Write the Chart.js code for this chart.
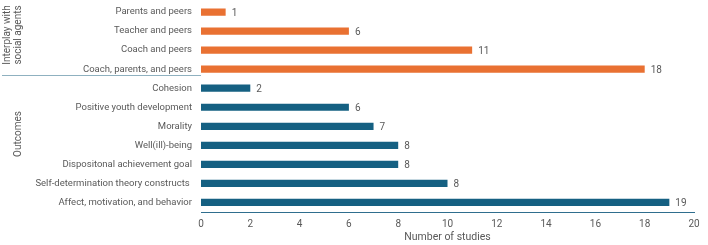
<!DOCTYPE html>
<html>
<head>
<meta charset="utf-8">
<script src="https://cdn.jsdelivr.net/npm/chart.js@4"></script>
<style>
  html, body { margin: 0; padding: 0; background: #fff; }
  #wrap { width: 708px; height: 245px; position: relative; }
</style>
</head>
<body>
<div id="wrap"><canvas id="chart"></canvas></div>
<script>
// groups, top to bottom
const socialCategories = ['Parents and peers', 'Teacher and peers', 'Coach and peers', 'Coach, parents, and peers'];
const socialValues = [1, 6, 11, 18];
const outcomeCategories = ['Cohesion', 'Positive youth development', 'Morality', 'Well(ill)-being',
  'Dispositonal achievement goal', 'Self-determination theory constructs ', 'Affect, motivation, and behavior'];
const outcomeValues = [2, 6, 7, 8, 8, 10, 19];
// printed next to the bars (as shown in the figure)
const socialLabels = ['1', '6', '11', '18'];
const outcomeLabels = ['2', '6', '7', '8', '8', '8', '19'];
const xTicks = [0, 2, 4, 6, 8, 10, 12, 14, 16, 18, 20];

const ORANGE = '#E97132';
const BLUE = '#156082';
const TEXT = '#595959';
const FONT = 'Roboto, "Noto Sans", sans-serif';

const labels = socialCategories.concat(outcomeCategories);
const values = socialValues.concat(outcomeValues);
const valueLabels = socialLabels.concat(outcomeLabels);
const colors = socialValues.map(() => ORANGE).concat(outcomeValues.map(() => BLUE));

const extras = {
  id: 'extras',
  afterDatasetsDraw(chart) {
    const ctx = chart.ctx;
    const meta = chart.getDatasetMeta(0);
    ctx.save();
    ctx.fillStyle = TEXT;
    ctx.font = '10px ' + FONT;
    ctx.textBaseline = 'middle';
    ctx.textAlign = 'left';
    meta.data.forEach((bar, i) => {
      ctx.fillText(valueLabels[i], bar.x + 6, bar.y + 1);
    });
    ctx.restore();
  },
  afterDraw(chart) {
    const ctx = chart.ctx;
    const y = chart.scales.y;
    const area = chart.chartArea;
    const n = socialCategories.length;
    const y0 = y.getPixelForValue(n - 1), y1 = y.getPixelForValue(n);
    const sepY = Math.round(y0 + (y1 - y0) * 0.3) + 0.5;
    ctx.save();
    ctx.strokeStyle = '#8FB1C0';
    ctx.lineWidth = 1;
    ctx.beginPath();
    ctx.moveTo(2, sepY);
    ctx.lineTo(area.left, sepY);
    ctx.stroke();

    ctx.fillStyle = TEXT;
    ctx.font = '10px ' + FONT;
    ctx.textAlign = 'center';
    ctx.textBaseline = 'middle';
    // Interplay group label
    ctx.save();
    ctx.translate(7, 35);
    ctx.rotate(-Math.PI / 2);
    ctx.fillText('Interplay with', 0, 0);
    ctx.fillText('social agents', 0, 11.5);
    ctx.restore();
    // Outcomes group label
    ctx.save();
    ctx.translate(18.5, 134);
    ctx.rotate(-Math.PI / 2);
    ctx.fillText('Outcomes', 0, 0);
    ctx.restore();
    ctx.restore();
  }
};

new Chart(document.getElementById('chart'), {
  type: 'bar',
  data: {
    labels: labels,
    datasets: [{
      data: values,
      backgroundColor: colors,
      barPercentage: 0.38,
      categoryPercentage: 1
    }]
  },
  options: {
    indexAxis: 'y',
    responsive: true,
    maintainAspectRatio: false,
    animation: false,
    layout: { padding: { top: 2.5, right: 14, left: 0, bottom: 0 } },
    plugins: { legend: { display: false }, tooltip: { enabled: false } },
    scales: {
      x: {
        min: 0,
        max: 20,
        afterBuildTicks: (scale) => { scale.ticks = xTicks.map(v => ({ value: v })); },
        afterFit: (scale) => { scale.height = 33; },
        grid: { display: false, drawTicks: false },
        border: { display: true, color: '#2F6E8E', width: 1 },
        ticks: { color: TEXT, font: { family: FONT, size: 10 }, padding: 6 },
        title: { display: true, text: 'Number of studies', color: TEXT, font: { family: FONT, size: 10.5 }, padding: { top: 0, bottom: 1 } }
      },
      y: {
        afterFit: (scale) => { scale.width = 201; scale.paddingTop = 0; scale.paddingBottom = 0; },
        grid: { display: false, drawTicks: false },
        border: { display: false },
        ticks: { color: TEXT, font: { family: FONT, size: 9.5 }, padding: 9, autoSkip: false }
      }
    }
  },
  plugins: [extras]
});
</script>
</body>
</html>
